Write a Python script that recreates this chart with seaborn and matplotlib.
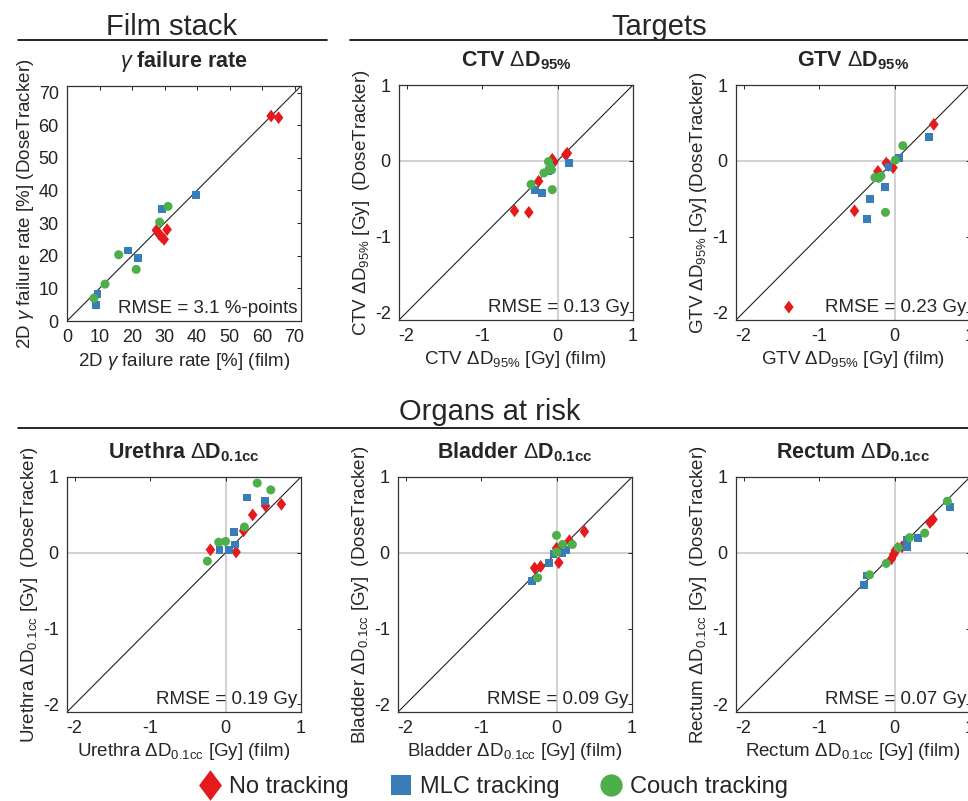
import numpy as np
import pandas as pd
import matplotlib
matplotlib.use('Agg')
import matplotlib.pyplot as plt
from matplotlib.lines import Line2D
import seaborn as sns

# punkty: film (x) vs DoseTracker (y)
gamma_no_x = [27.5, 28.4, 29.1, 29.9, 30.8, 62.8, 65.1]
gamma_no_y = [27.8, 26.5, 25.8, 25.0, 28.0, 62.8, 62.3]
gamma_mlc_x = [8.9, 9.4, 18.7, 21.8, 29.1, 39.8]
gamma_mlc_y = [5.0, 8.3, 21.6, 19.2, 34.4, 38.5]
gamma_couch_x = [8.3, 11.7, 15.9, 21.3, 28.5, 31.1]
gamma_couch_y = [7.0, 11.3, 20.3, 15.8, 30.3, 35.1]

ctv_no_x = [-0.57, -0.38, -0.25, -0.07, -0.05, 0.11, 0.13]
ctv_no_y = [-0.66, -0.68, -0.27, 0.02, -0.02, 0.08, 0.10]
ctv_mlc_x = [-0.30, -0.21, -0.12, -0.10, -0.08, 0.15]
ctv_mlc_y = [-0.38, -0.42, -0.13, -0.08, -0.10, -0.03]
ctv_couch_x = [-0.35, -0.18, -0.12, -0.08, -0.07, -0.10]
ctv_couch_y = [-0.31, -0.16, -0.01, -0.12, -0.38, -0.08]

gtv_no_x = [-1.40, -0.53, -0.22, -0.11, -0.08, -0.02, 0.52]
gtv_no_y = [-1.93, -0.66, -0.14, -0.03, -0.06, -0.09, 0.48]
gtv_mlc_x = [-0.37, -0.33, -0.13, -0.08, 0.06, 0.46]
gtv_mlc_y = [-0.77, -0.50, -0.34, -0.08, 0.04, 0.31]
gtv_couch_x = [-0.26, -0.21, -0.18, -0.12, 0.01, 0.11]
gtv_couch_y = [-0.22, -0.23, -0.20, -0.68, 0.01, 0.20]

ureth_no_x = [-0.20, 0.14, 0.24, 0.36, 0.53, 0.74]
ureth_no_y = [0.04, 0.01, 0.29, 0.50, 0.62, 0.64]
ureth_mlc_x = [-0.08, 0.05, 0.13, 0.11, 0.28, 0.52]
ureth_mlc_y = [0.04, 0.04, 0.11, 0.27, 0.73, 0.68]
ureth_couch_x = [-0.24, -0.09, 0.0, 0.25, 0.42, 0.60]
ureth_couch_y = [-0.11, 0.14, 0.15, 0.34, 0.92, 0.83]

blad_no_x = [-0.29, -0.21, 0.0, 0.03, 0.05, 0.17, 0.37]
blad_no_y = [-0.20, -0.18, 0.06, -0.13, 0.03, 0.16, 0.28]
blad_mlc_x = [-0.32, -0.10, -0.04, 0.08, 0.12]
blad_mlc_y = [-0.37, -0.13, -0.02, 0.0, 0.04]
blad_couch_x = [-0.25, 0.0, 0.0, 0.08, 0.21]
blad_couch_y = [-0.33, 0.23, 0.01, 0.11, 0.11]

rect_no_x = [-0.04, -0.01, 0.01, 0.04, 0.10, 0.47, 0.51]
rect_no_y = [-0.08, -0.02, 0.03, 0.06, 0.08, 0.40, 0.44]
rect_mlc_x = [-0.40, -0.37, 0.16, 0.17, 0.31, 0.74]
rect_mlc_y = [-0.43, -0.30, 0.08, 0.17, 0.20, 0.60]
rect_couch_x = [-0.33, -0.11, 0.05, 0.20, 0.40, 0.70]
rect_couch_y = [-0.29, -0.14, 0.07, 0.20, 0.26, 0.68]

rmse_labels = ['RMSE = 3.1 %-points', 'RMSE = 0.13 Gy', 'RMSE = 0.23 Gy',
               'RMSE = 0.19 Gy', 'RMSE = 0.09 Gy', 'RMSE = 0.07 Gy']
groups = ['No tracking', 'MLC tracking', 'Couch tracking']

sns.set_theme(style="white")
plt.rcParams['font.family'] = ['Liberation Sans', 'DejaVu Sans']
plt.rcParams['mathtext.fontset'] = 'custom'
plt.rcParams['mathtext.rm'] = 'Liberation Sans'
plt.rcParams['mathtext.it'] = 'Liberation Sans:italic'
plt.rcParams['mathtext.bf'] = 'Liberation Sans:bold'
plt.rcParams['axes.unicode_minus'] = False

colors = {'No tracking': '#E41A1C', 'MLC tracking': '#377EB8', 'Couch tracking': '#4DAF4A'}
diamond = [(0, 1), (0.75, 0), (0, -1), (-0.75, 0)]
markers = {'No tracking': diamond, 'MLC tracking': 's', 'Couch tracking': 'o'}
sizes = {'No tracking': 85, 'MLC tracking': 32, 'Couch tracking': 42}

W, H = 968, 801
fig = plt.figure(figsize=(W / 100, H / 100), dpi=100)


def px_axes(left, top, w, h):
    return fig.add_axes([left / W, 1 - (top + h) / H, w / W, h / H])


def make_df(nx, ny, mx, my, cx, cy):
    return pd.DataFrame({
        'film': nx + mx + cx,
        'dt': ny + my + cy,
        'group': [groups[0]] * len(nx) + [groups[1]] * len(mx) + [groups[2]] * len(cx),
    })


panels = [
    (make_df(gamma_no_x, gamma_no_y, gamma_mlc_x, gamma_mlc_y, gamma_couch_x, gamma_couch_y),
     (67, 86), r'$\gamma$ failure rate',
     r'2D $\gamma$ failure rate [%] (film)', r'2D $\gamma$ failure rate [%] (DoseTracker)', 'gamma'),
    (make_df(ctv_no_x, ctv_no_y, ctv_mlc_x, ctv_mlc_y, ctv_couch_x, ctv_couch_y),
     (399, 85), r'CTV $\Delta\mathbf{D_{95\%}}$',
     r'CTV $\Delta\mathregular{D_{95\%}}$ [Gy] (film)', r'CTV $\Delta\mathregular{D_{95\%}}$ [Gy]  (DoseTracker)', 'dose'),
    (make_df(gtv_no_x, gtv_no_y, gtv_mlc_x, gtv_mlc_y, gtv_couch_x, gtv_couch_y),
     (736, 85), r'GTV $\Delta\mathbf{D_{95\%}}$',
     r'GTV $\Delta\mathregular{D_{95\%}}$ [Gy] (film)', r'GTV $\Delta\mathregular{D_{95\%}}$ [Gy] (DoseTracker)', 'dose'),
    (make_df(ureth_no_x, ureth_no_y, ureth_mlc_x, ureth_mlc_y, ureth_couch_x, ureth_couch_y),
     (67, 477), r'Urethra $\Delta\mathbf{D_{0.1cc}}$',
     r'Urethra $\Delta\mathregular{D_{0.1cc}}$ [Gy] (film)', r'Urethra $\Delta\mathregular{D_{0.1cc}}$ [Gy]  (DoseTracker)', 'dose'),
    (make_df(blad_no_x, blad_no_y, blad_mlc_x, blad_mlc_y, blad_couch_x, blad_couch_y),
     (398, 477), r'Bladder $\Delta\mathbf{D_{0.1cc}}$',
     r'Bladder $\Delta\mathregular{D_{0.1cc}}$ [Gy] (film)', r'Bladder $\Delta\mathregular{D_{0.1cc}}$ [Gy]  (DoseTracker)', 'dose'),
    (make_df(rect_no_x, rect_no_y, rect_mlc_x, rect_mlc_y, rect_couch_x, rect_couch_y),
     (736, 477), r'Rectum $\Delta\mathbf{D_{0.1cc}}$',
     r'Rectum $\Delta\mathregular{D_{0.1cc}}$ [Gy] (film)', r'Rectum $\Delta\mathregular{D_{0.1cc}}$ [Gy]  (DoseTracker)', 'dose'),
]

for i, (df, (left, top), title, xlab, ylab, kind) in enumerate(panels):
    ax = px_axes(left, top, 234, 235)
    if kind == 'gamma':
        lo, hi = 0, 72
        ticks = np.arange(0, 71, 10)
    else:
        lo, hi = -2.1, 1.0
        ticks = [-2, -1, 0, 1]
        ax.axhline(0, color='#C4C4C4', lw=1.1, zorder=0)
        ax.axvline(0, color='#C4C4C4', lw=1.1, zorder=0)
    ax.plot([lo, hi], [lo, hi], color='#222222', lw=0.8, zorder=1)
    sns.scatterplot(data=df, x='film', y='dt', hue='group', style='group', size='group',
                    palette=colors, markers=markers, sizes=sizes, linewidth=0,
                    legend=False, ax=ax, zorder=3)
    ax.set_xlim(lo, hi)
    ax.set_ylim(lo, hi)
    ax.set_xticks(ticks)
    ax.set_yticks(ticks)
    ax.tick_params(direction='in', length=3, width=0.7, top=True, right=True,
                   labelsize=13, pad=6, colors='#222222')
    for sp in ax.spines.values():
        sp.set_linewidth(0.9)
        sp.set_color('#333333')
    ax.set_xlabel(xlab, fontsize=13.5, labelpad=3)
    ax.set_ylabel(ylab, fontsize=13.5, labelpad=2)
    ax.text(0.5, 1.08, title, transform=ax.transAxes, ha='center', va='baseline',
            fontsize=15.5, fontweight='bold')
    ax.text(0.985, 0.015, rmse_labels[i], transform=ax.transAxes, ha='right', va='bottom',
            fontsize=13.5)

# naglowki sekcji z kreskami
fig.text(172 / W, 1 - 35 / H, 'Film stack', ha='center', va='baseline', fontsize=21)
fig.text(659 / W, 1 - 35 / H, 'Targets', ha='center', va='baseline', fontsize=21)
fig.text(490 / W, 1 - 420 / H, 'Organs at risk', ha='center', va='baseline', fontsize=21)
fig.add_artist(Line2D([18 / W, 327 / W], [1 - 40 / H] * 2, color='black', lw=1.2))
fig.add_artist(Line2D([350 / W, 1.0], [1 - 40 / H] * 2, color='black', lw=1.2))
fig.add_artist(Line2D([18 / W, 1.0], [1 - 428 / H] * 2, color='black', lw=1.2))

handles = [
    Line2D([], [], ls='none', marker=markers[g], color=colors[g], markeredgewidth=0,
           markersize={'No tracking': 22, 'MLC tracking': 15, 'Couch tracking': 16}[g], label=g)
    for g in groups
]
fig.legend(handles=handles, loc='center', bbox_to_anchor=(492 / W, 1 - 787 / H), ncol=3,
           frameon=False, fontsize=17, handletextpad=0.2, columnspacing=1.6, handlelength=1.2)

plt.savefig('out.png', dpi=100)
